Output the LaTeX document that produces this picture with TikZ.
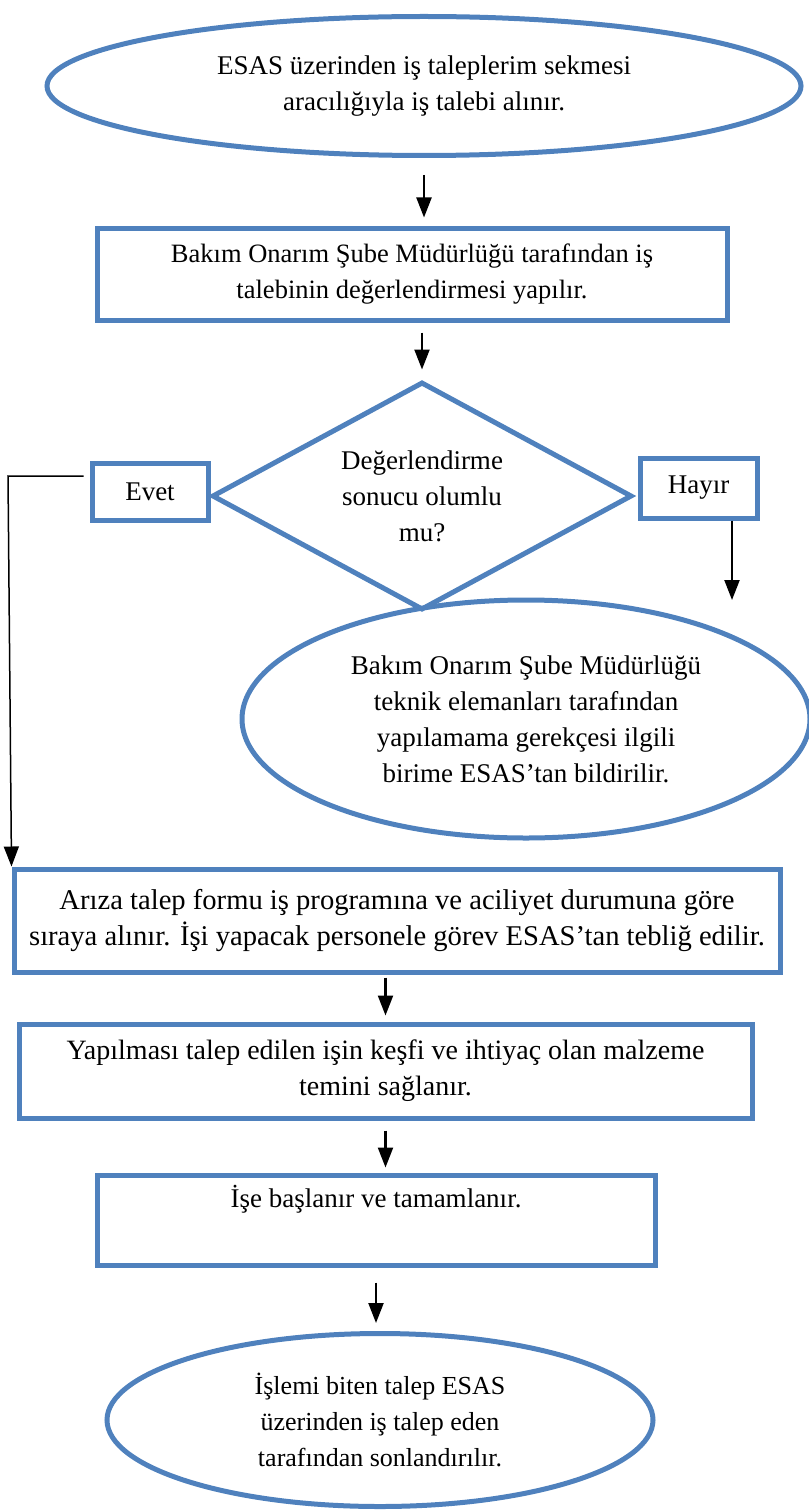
\documentclass[tikz,border=0pt]{standalone}
\usepackage{fontspec}
\setmainfont{Liberation Serif}
\usepackage{xcolor}
\usetikzlibrary{shapes.geometric, arrows.meta}

\definecolor{esasmavi}{HTML}{4F81BD}

\tikzset{
	yazi/.style={font=\fontsize{#1}{36pt}\selectfont, align=center},
	yazi/.default=27pt,
	blok/.style={yazi, draw=esasmavi, line width=5pt, rectangle, inner sep=0pt},
	oval/.style={yazi, draw=esasmavi, line width=5pt, ellipse, inner sep=0pt},
	karar/.style={yazi, draw=esasmavi, line width=5pt, diamond, aspect=1.84, inner sep=0pt},
	ok/.style={-{Triangle[length=20pt, width=15pt]}, line width=2.2pt}
}

\begin{document}
\begin{tikzpicture}[x=1pt, y=-1pt]
	\useasboundingbox (0,0) rectangle (808,1511);
	\node[oval, minimum width=754pt, minimum height=139pt] (talep) at (424,86) {ESAS üzerinden iş taleplerim sekmesi\\aracılığıyla iş talebi alınır.};
	\node[blok, yazi=26.5pt, minimum width=630pt, minimum height=91pt] (degerlendirme) at (412,274.5) {Bakım Onarım Şube Müdürlüğü tarafından iş\\talebinin değerlendirmesi yapılır.};
	\node[karar, minimum width=420pt, minimum height=228pt] (karar) at (422,496) {Değerlendirme\\sonucu olumlu\\mu?};
	\node[blok, minimum width=116pt, minimum height=57pt] (evet) at (150,491.5) {Evet};
	\node[blok, minimum width=117pt, minimum height=60pt] (hayir) at (698.5,488) {Hayır};
	\node[oval, minimum width=568pt, minimum height=238pt] (red) at (526,719) {Bakım Onarım Şube Müdürlüğü\\teknik elemanları tarafından\\yapılamama gerekçesi ilgili\\birime ESAS’tan bildirilir.};
	\node[blok, yazi=28.6pt, minimum width=766pt, minimum height=103pt] (siralama) at (397,920.5) {Arıza talep formu iş programına ve aciliyet durumuna göre\\sıraya alınır. İşi yapacak personele görev ESAS’tan tebliğ edilir.};
	\node[blok, yazi=28pt, minimum width=733pt, minimum height=94pt] (kesif) at (385.5,1071) {Yapılması talep edilen işin keşfi ve ihtiyaç olan malzeme\\temini sağlanır.};
	\node[blok, minimum width=558pt, minimum height=90pt] (is) at (376,1220) {İşe başlanır ve tamamlanır.\\ \strut};
	\node[oval, yazi=26pt, minimum width=546pt, minimum height=173pt] (son) at (380,1420) {İşlemi biten talep ESAS\\üzerinden iş talep eden\\tarafından sonlandırılır.};

	\coordinate (kose) at (8,476);
	\coordinate (hayiruc) at (732,600);

	\draw[ok, shorten <=17pt, shorten >=9pt] (talep.south) -- (talep.south |- degerlendirme.north);
	\draw[ok, shorten <=10pt, shorten >=10pt] (degerlendirme.south -| karar.north) -- (karar.north);
	\draw[ok, line width=1.5pt, shorten <=6pt] (evet.west |- kose) -- (kose) -- (siralama.north west);
	\draw[ok] (hayir.south -| hayiruc) -- (hayiruc);
	\draw[ok, shorten <=3pt, shorten >=6pt] (siralama.south -| kesif.north) -- (kesif.north);
	\draw[ok, shorten <=10pt, shorten >=5pt] (kesif.south) -- (kesif.south |- is.north);
	\draw[ok, shorten <=15pt, shorten >=8pt] (is.south) -- (is.south |- son.north);
\end{tikzpicture}
\end{document}
